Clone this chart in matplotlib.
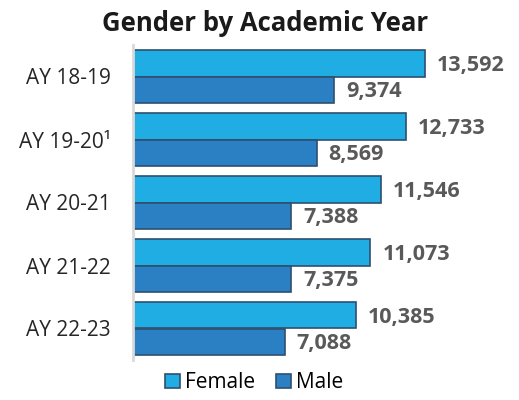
import numpy as np
import matplotlib.pyplot as plt

years = ["AY 18-19", "AY 19-20\u00b9", "AY 20-21", "AY 21-22", "AY 22-23"]
female = [13592, 12733, 11546, 11073, 10385]
male = [9374, 8569, 7388, 7375, 7088]

FEMALE_COLOR = "#1fade3"
MALE_COLOR = "#2b7fc3"
EDGE_COLOR = "#2f4f6f"

plt.rcParams["font.family"] = ["Open Sans", "DejaVu Sans"]

fig = plt.figure(figsize=(5.19, 4.0), dpi=100)
ax = fig.add_axes([0.256, 0.1, 0.736, 0.7875])

y = np.arange(len(years))
h = 0.42

ax.barh(y - h / 2, female, height=h, color=FEMALE_COLOR, edgecolor=EDGE_COLOR,
        linewidth=1.2, label="Female")
ax.barh(y + h / 2, male, height=h, color=MALE_COLOR, edgecolor=EDGE_COLOR,
        linewidth=1.2, label="Male")

for i in range(len(years)):
    ax.text(female[i] + 550, y[i] - h / 2 + 0.03, f"{female[i]:,}", va="center",
            ha="left", fontsize=15.5, fontweight="bold", color="#595959")
    ax.text(male[i] + 550, y[i] + h / 2 + 0.03, f"{male[i]:,}", va="center",
            ha="left", fontsize=15.5, fontweight="bold", color="#595959")

ax.set_xlim(0, 17800)
ax.set_ylim(4.5, -0.5)
ax.set_yticks(y)
ax.set_yticklabels(years, fontsize=15, color="#262626")
ax.tick_params(axis="y", length=0, pad=16)
ax.set_xticks([])

for side in ["top", "right", "bottom"]:
    ax.spines[side].set_visible(False)
ax.spines["left"].set_color("#d9d9d9")
ax.spines["left"].set_linewidth(2)

fig.suptitle("Gender by Academic Year", x=0.51, y=0.975, fontsize=18.5,
             fontweight="bold", color="#1a1a1a")

fig.legend(loc="lower center", bbox_to_anchor=(0.49, -0.03), ncol=2,
           frameon=False, fontsize=15, handlelength=0.7, handleheight=0.7,
           handletextpad=0.25, columnspacing=1.0)

plt.savefig("out.png", dpi=100)
